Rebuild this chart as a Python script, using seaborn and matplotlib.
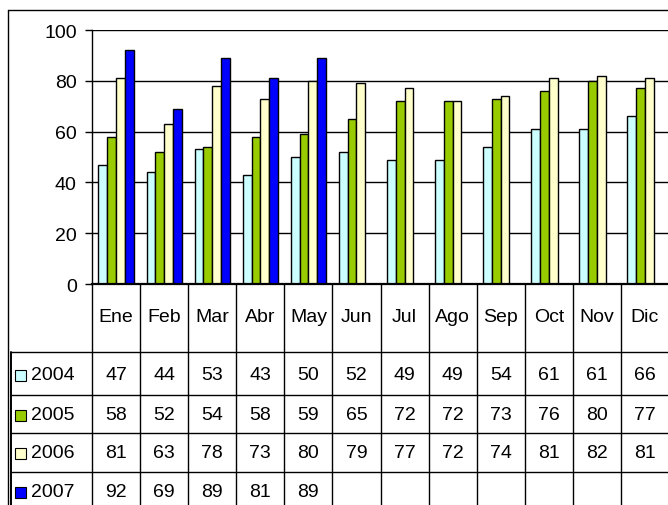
import numpy as np
import pandas as pd
import matplotlib
matplotlib.use("Agg")
import matplotlib.pyplot as plt
import matplotlib.transforms as mtransforms
from matplotlib.patches import Rectangle
import seaborn as sns

months = ["Ene", "Feb", "Mar", "Abr", "May", "Jun", "Jul", "Ago", "Sep", "Oct", "Nov", "Dic"]
years = ["2004", "2005", "2006", "2007"]
v2004 = [47, 44, 53, 43, 50, 52, 49, 49, 54, 61, 61, 66]
v2005 = [58, 52, 54, 58, 59, 65, 72, 72, 73, 76, 80, 77]
v2006 = [81, 63, 78, 73, 80, 79, 77, 72, 74, 81, 82, 81]
v2007 = [92, 69, 89, 81, 89, None, None, None, None, None, None, None]
colors = ["#CCFFFF", "#99CC00", "#FFFFCC", "#0000FF"]
yticks = [0, 20, 40, 60, 80, 100]

series = [v2004, v2005, v2006, v2007]
rows = []
for y, vals in zip(years, series):
    for m, v in zip(months, vals):
        rows.append({"Mes": m, "Año": y, "Valor": np.nan if v is None else v})
df = pd.DataFrame(rows)

sns.set_theme(style="white")
plt.rcParams["font.family"] = ["Liberation Sans", "DejaVu Sans"]
FS = 14

W, H = 668, 506
fig = plt.figure(figsize=(W / 100, H / 100), dpi=100)
fig.patch.set_facecolor("white")

# plot area in pixels
L, T, R, B = 92, 31, 669, 285
ax = fig.add_axes([L / W, (H - B) / H, (R - L) / W, (B - T) / H])
sns.barplot(data=df, x="Mes", y="Valor", hue="Año", order=months, hue_order=years,
            palette=dict(zip(years, colors)), edgecolor="black", linewidth=1.0,
            width=0.73, legend=False, ax=ax, saturation=1, errorbar=None)
ax.set_xlim(-0.5, len(months) - 0.5)
ax.set_ylim(0, 100)
ax.set_yticks(yticks)
ax.set_yticklabels([str(t) for t in yticks], fontsize=FS, color="black")
ax.set_xticks([])
ax.set_xlabel("")
ax.set_ylabel("")
ax.yaxis.grid(True, color="black", linewidth=1.0)
ax.set_axisbelow(True)
ax.tick_params(axis="y", which="major", direction="out", length=5, width=1,
               color="black", pad=6, left=True)
for s in ["left", "bottom"]:
    ax.spines[s].set_color("black")
    ax.spines[s].set_linewidth(1.0)
ax.spines["bottom"].set_linewidth(1.6)
ax.spines["top"].set_visible(False)
ax.spines["right"].set_visible(False)

# overlay in pixel coordinates for frame and data table
ov = fig.add_axes([0, 0, 1, 1], facecolor="none")
ov.set_xlim(0, W)
ov.set_ylim(H, 0)
ov.axis("off")
ov.set_zorder(3)

bt = mtransforms.blended_transform_factory(ax.transData, ov.transData)

# outer chart frame
ov.plot([8, 8], [11, H], color="black", lw=1.0)
ov.plot([8, W], [11, 11], color="black", lw=1.0)

# table geometry (pixels)
header_bottom = 353
row_lines = [353, 396, 434, 473]
row_centers = [376, 416, 454, 493]
legend_left = 11

# vertical category boundaries
for i in range(len(months) + 1):
    ov.plot([i - 0.5, i - 0.5], [B, H], color="black", lw=1.0, transform=bt)
# horizontal row lines
for yl in row_lines:
    ov.plot([legend_left, R], [yl, yl], color="black", lw=1.0)
ov.plot([legend_left, legend_left], [header_bottom, H], color="black", lw=1.4)

# month labels
for i, m in enumerate(months):
    ov.text(i, 318, m, transform=bt, ha="center", va="center", fontsize=FS, color="black")

# data rows
for yc, yname, vals, c in zip(row_centers, years, series, colors):
    ov.add_patch(Rectangle((15, yc - 5.5), 11, 11, facecolor=c, edgecolor="black", lw=0.8))
    ov.text(31, yc, yname, ha="left", va="center", fontsize=FS, color="black")
    for i, v in enumerate(vals):
        if v is not None:
            ov.text(i, yc, str(v), transform=bt, ha="center", va="center",
                    fontsize=FS, color="black")

fig.savefig("out.png", dpi=100)
